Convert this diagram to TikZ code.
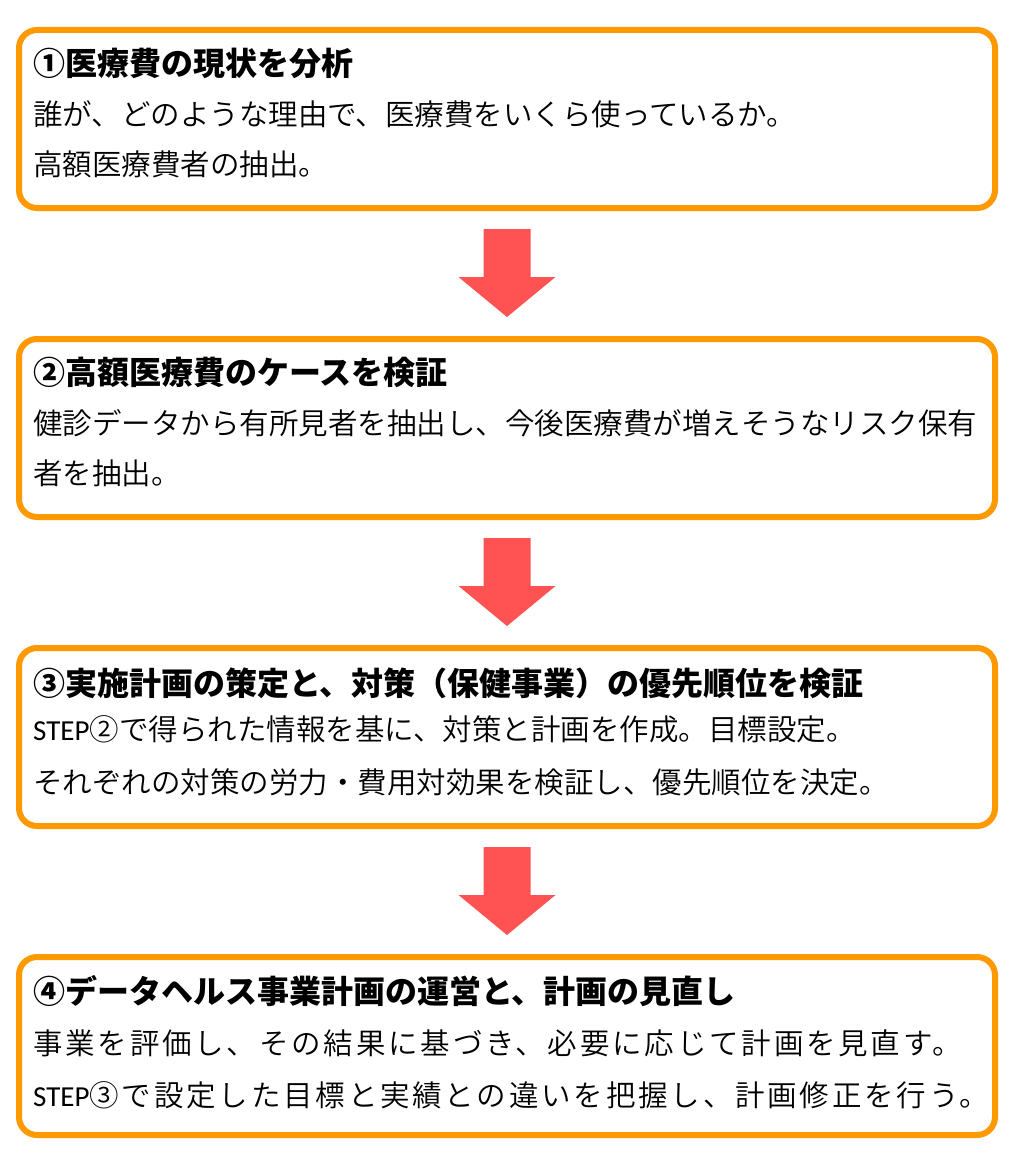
\documentclass[tikz,border=0pt]{standalone}
\usepackage{fontspec}
\usetikzlibrary{calc}
\newfontfamily\jp{Noto Sans CJK JP}
\newfontfamily\jpl{Noto Sans CJK JP DemiLight}
\newfontfamily\jplw{Noto Sans CJK JP DemiLight}[LetterSpace=9.5]
\newfontfamily\lat{Carlito}
\definecolor{boxorange}{HTML}{FF9900}
\definecolor{arrowred}{HTML}{FF5252}
\tikzset{
  stepbox/.style={draw=boxorange, line width=6pt, rounded corners=18pt, fill=white,
    minimum width=976pt, minimum height=178pt, inner sep=0pt},
  ttl/.style={anchor=west, inner sep=0pt, font=\jp\bfseries\fontsize{32}{38}\selectfont},
  bdy/.style={anchor=west, inner sep=0pt, font=\jpl\fontsize{29.5}{35}\selectfont},
  bdywide/.style={anchor=west, inner sep=0pt, font=\jplw\fontsize{29.5}{35}\selectfont},
  blockarrow/.style={fill=arrowred, draw=none}
}
\newcommand{\stp}{{\lat\fontsize{29}{35}\selectfont STEP}}
\begin{document}
\begin{tikzpicture}[x=1pt,y=-1pt]
\useasboundingbox (0,0) rectangle (1014,1156);
\fill[white] (0,0) rectangle (1014,1156);
% boxes
\node[stepbox] (b1) at (507,119) {};
\node[stepbox] (b2) at (507,428) {};
\node[stepbox] (b3) at (507,737) {};
\node[stepbox] (b4) at (507,1046) {};
% arrows between boxes
\foreach \a/\b in {b1/b2,b2/b3,b3/b4}{
  \path (\a.south) ++(0,18) coordinate (\a top);
  \fill[blockarrow] (\a top) ++(-23.5,0) -- ++(47,0) -- ++(0,48) -- ++(25,0)
     -- ($(\b.north)+(0,-19)$) -- ($(\a top)+(-48.5,48)$) -- ++(25,0) -- cycle;
}
% box 1
\node[ttl] (t1) at (33,63) {①医療費の現状を分析};
\node[bdy] (l1a) at (33,114) {誰が、どのような理由で、医療費をいくら使っているか。};
\node[bdy] (l1b) at (33,164) {高額医療費者の抽出。};
% box 2
\node[ttl] (t2) at (33,372) {②高額医療費のケースを検証};
\node[bdy] (l2a) at (33,423) {健診データから有所見者を抽出し、今後医療費が増えそうなリスク保有};
\node[bdy] (l2b) at (33,473) {者を抽出。};
% box 3
\node[ttl] (t3) at (33,683) {③実施計画の策定と、対策（保健事業）の優先順位を検証};
\node[bdy] (l3a) at (33,729) {\stp ②で得られた情報を基に、対策と計画を作成。目標設定。};
\node[bdy] (l3b) at (33,782) {それぞれの対策の労力・費用対効果を検証し、優先順位を決定。};
% box 4
\node[ttl] (t4) at (33,991) {④データヘルス事業計画の運営と、計画の見直し};
\node[bdywide] (l4a) at (33,1043) {事業を評価し、その結果に基づき、必要に応じて計画を見直す。};
\node[bdywide] (l4b) at (33,1095) {\stp ③で設定した目標と実績との違いを把握し、計画修正を行う。};
\end{tikzpicture}
\end{document}
